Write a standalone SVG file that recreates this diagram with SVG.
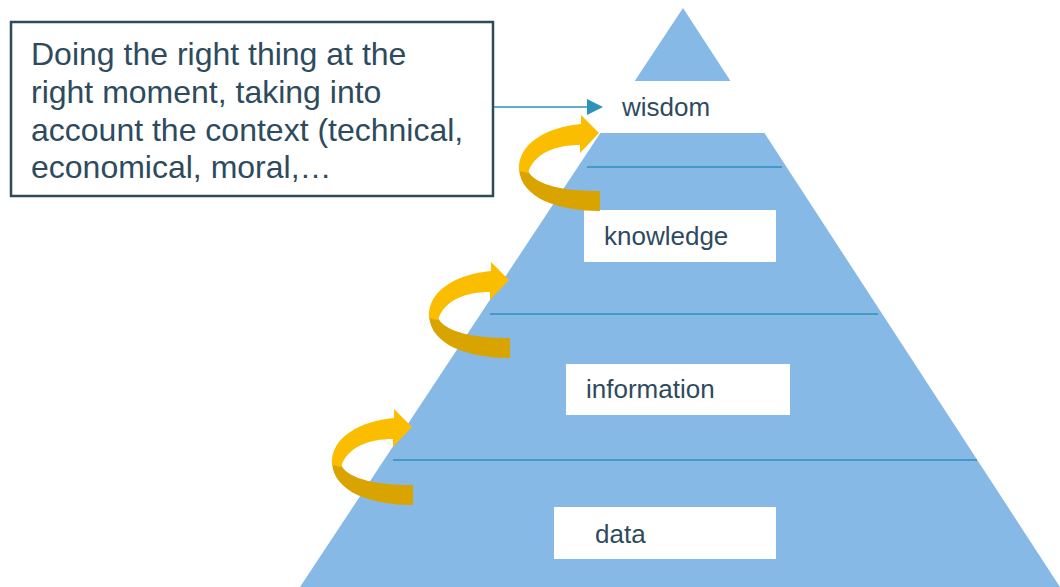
<svg xmlns="http://www.w3.org/2000/svg" width="1060" height="587" viewBox="0 0 1060 587">
  <style>
    .label { font-family: "Liberation Sans", Arial, sans-serif; font-size: 26px; fill: #2e4b5e; }
    .note { font-family: "Liberation Sans", Arial, sans-serif; font-size: 32px; fill: #2e4b5e; }
    .tier-line { stroke: #2f8fbf; stroke-width: 1.6; fill: none; }
    .label-box { fill: #ffffff; }
    .curl-light { fill: #fbbd00; }
    .curl-dark { fill: #d9a300; }
  </style>
  <defs>
    <!-- curled ribbon arrow: dark underside ending in a flat tail, bright top face ending in a head -->
    <g id="curl">
      <path class="curl-dark" d="M429,316 C431,345 468,358 510,358 L510,338 C476,338 446,333 438,318 Z"/>
      <path class="curl-light" d="M429,318 C427,290 458,274 491,271 L491,262 L509,280 L490,300 L490,292 C466,292 444,300 438,320 Z"/>
    </g>
  </defs>

  <rect width="1060" height="587" fill="#ffffff"/>

  <!-- pyramid -->
  <g id="pyramid">
    <polygon points="683,8 1060,587 300,587" fill="#86b9e5"/>
  </g>

  <!-- tier separators -->
  <g id="tiers">
    <line class="tier-line" x1="587" y1="167" x2="782" y2="167"/>
    <line class="tier-line" x1="490" y1="314" x2="878" y2="314"/>
    <line class="tier-line" x1="393" y1="460" x2="977" y2="460"/>
  </g>

  <g id="wisdom">
    <rect class="label-box" x="600" y="81" width="180" height="52"/>
    <text class="label" x="622" y="116">wisdom</text>
  </g>
  <g id="knowledge">
    <rect class="label-box" x="584" y="210" width="192" height="52"/>
    <text class="label" x="604" y="245">knowledge</text>
  </g>
  <g id="information">
    <rect class="label-box" x="566" y="364" width="224" height="51"/>
    <text class="label" x="586" y="398">information</text>
  </g>
  <g id="data">
    <rect class="label-box" x="554" y="507" width="222" height="52"/>
    <text class="label" x="595" y="543">data</text>
  </g>

  <g id="definition">
    <rect x="11" y="22" width="482" height="174" fill="#ffffff" stroke="#2f4a58" stroke-width="2.5"/>
    <text class="note" x="31" y="65">Doing the right thing at the</text>
    <text class="note" x="31" y="103">right moment, taking into</text>
    <text class="note" x="31" y="141">account the context (technical,</text>
    <text class="note" x="31" y="178">economical, moral,…</text>
  </g>

  <!-- connectors -->
  <g id="connectors">
    <line x1="494" y1="107" x2="590" y2="107" stroke="#2b93b8" stroke-width="1.6"/>
    <polygon points="587,99 603,107 587,115" fill="#2b93b8"/>
    <use href="#curl" transform="translate(90,-147)"/>
    <use href="#curl"/>
    <use href="#curl" transform="translate(-97,147)"/>
  </g>
</svg>
